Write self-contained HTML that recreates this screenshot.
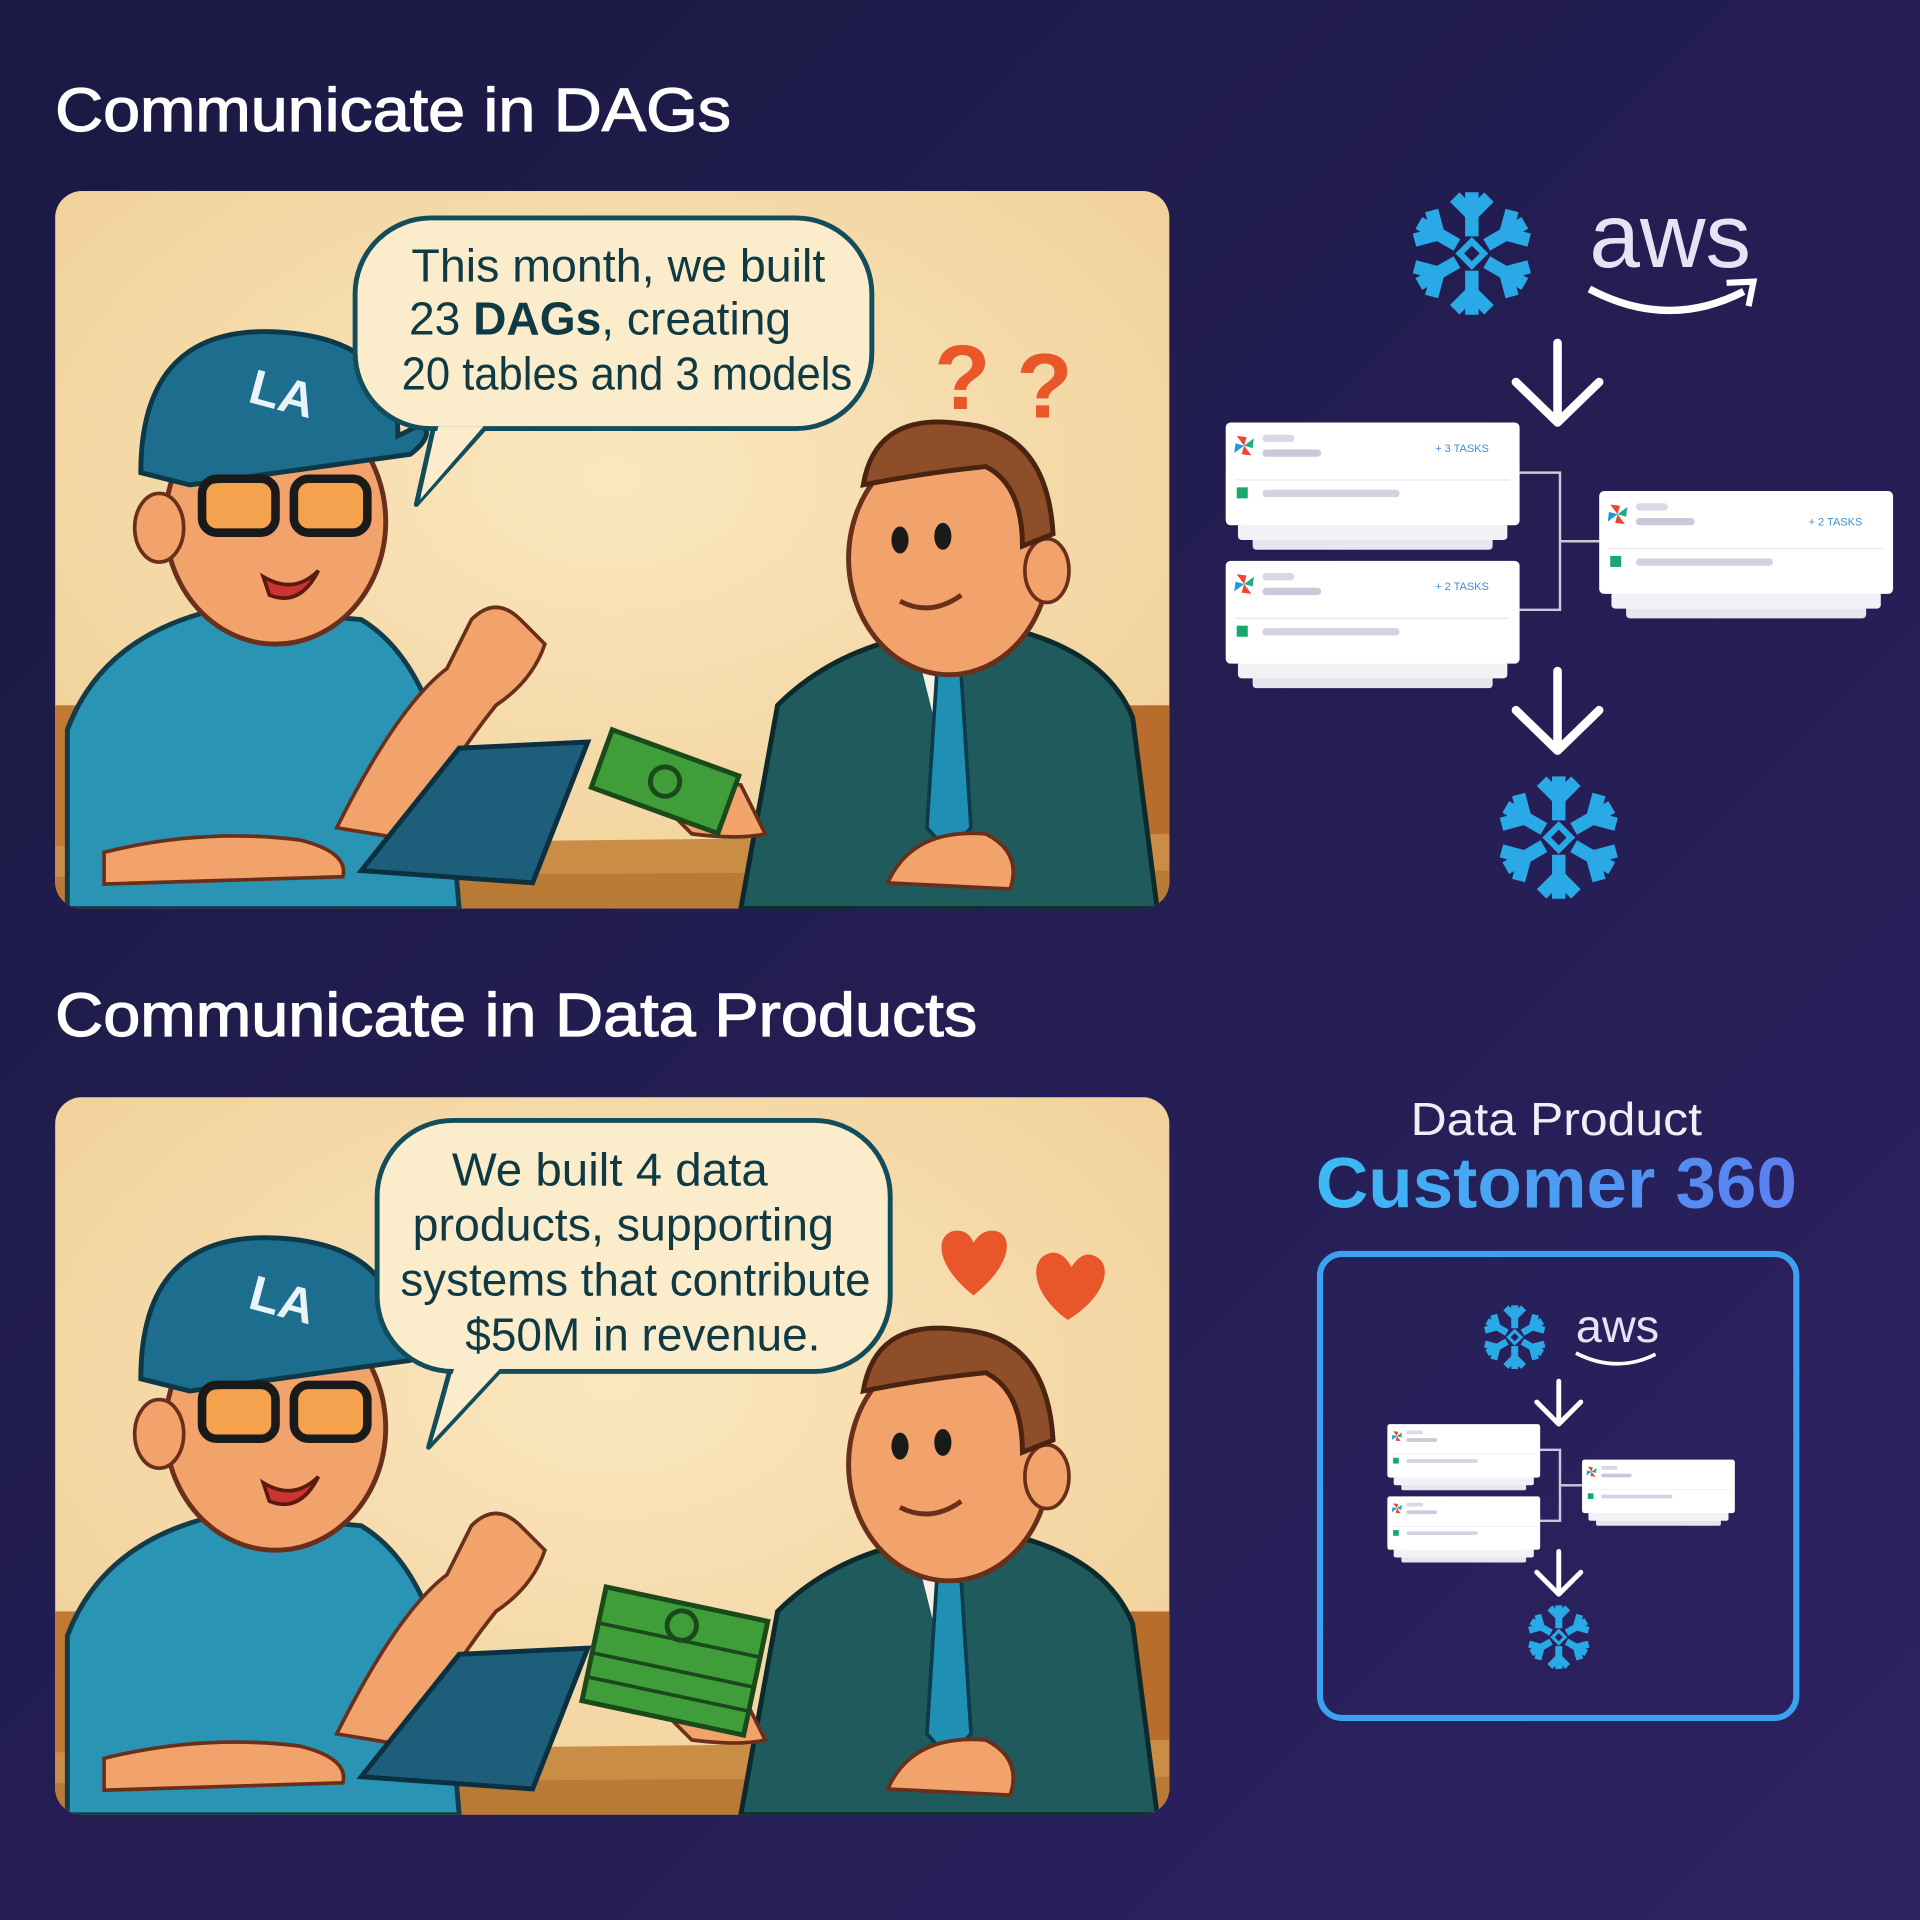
<!DOCTYPE html>
<html><head><meta charset="utf-8">
<style>
html,body{margin:0;padding:0;width:1920px;height:1920px;overflow:hidden;background:#1f1c4a}
svg{display:block}
</style></head>
<body>
<svg width="1920" height="1920" viewBox="0 0 1568 1568" xmlns="http://www.w3.org/2000/svg" font-family="Liberation Sans, DejaVu Sans, sans-serif">
<defs>
<linearGradient id="bg" x1="0" y1="0" x2="1" y2="1">
<stop offset="0" stop-color="#1a1942"/><stop offset="1" stop-color="#2d2262"/></linearGradient>
<radialGradient id="beige" cx="0.5" cy="0.4" r="0.7">
<stop offset="0" stop-color="#fbe7c0"/><stop offset="1" stop-color="#f0cf96"/></radialGradient>
<linearGradient id="cust" x1="0" y1="0" x2="1" y2="0">
<stop offset="0" stop-color="#3dbaf5"/><stop offset="1" stop-color="#5c7ff0"/></linearGradient>
<clipPath id="pc"><rect x="0" y="0" width="910" height="586" rx="22"/></clipPath>

<g id="snow" stroke="#29a9e6" stroke-width="11" fill="none" stroke-linecap="butt">
 <g id="arm"><path d="M0,-14 L0,-50"/><path d="M-14,-46 L0,-32 L14,-46"/></g>
 <use href="#arm" transform="rotate(60)"/><use href="#arm" transform="rotate(120)"/>
 <use href="#arm" transform="rotate(180)"/><use href="#arm" transform="rotate(240)"/><use href="#arm" transform="rotate(300)"/>
 <rect x="-7" y="-7" width="14" height="14" transform="rotate(45)" stroke-width="5"/>
</g>

<g id="pin">
 <path d="M0,0 L-6,-8 L2,-7Z" fill="#e43"/><path d="M0,0 L8,-6 L7,2Z" fill="#2a8"/>
 <path d="M0,0 L6,8 L-2,7Z" fill="#e43"/><path d="M0,0 L-8,6 L-7,-2Z" fill="#1a9be0"/>
</g>

<g id="card">
 <rect x="22" y="92" width="196" height="12" rx="3" fill="#e6e6ef"/>
 <rect x="10" y="82" width="220" height="14" rx="3" fill="#f1f1f6"/>
 <rect x="0" y="0" width="240" height="84" rx="4" fill="#fff"/>
 <use href="#pin" x="15" y="19"/>
 <rect x="30" y="10" width="26" height="6" rx="3" fill="#d8d8e6"/>
 <rect x="30" y="22" width="48" height="6" rx="3" fill="#c9c9da"/>
 <line x1="8" y1="47" x2="232" y2="47" stroke="#e6e6ee"/>
 <rect x="9" y="53" width="9" height="9" fill="#19a86b"/>
 <rect x="30" y="55" width="112" height="6" rx="3" fill="#d2d2e2"/>
</g>

<g id="cartoon">
 <rect x="0" y="0" width="910" height="586" fill="url(#beige)"/>
 <rect x="0" y="420" width="30" height="120" fill="#c07a34"/>
 <rect x="870" y="420" width="40" height="140" fill="#b86d2c"/>
 <path d="M0,535 L910,525 L910,586 L0,586Z" fill="#c98d45"/>
 <path d="M0,560 L910,555 L910,586 L0,586Z" fill="#b97a36"/>
 <path d="M10,586 L10,440 Q40,360 140,340 L250,350 Q300,380 320,470 L330,586Z" fill="#2a94b4" stroke="#123c4a" stroke-width="4"/>
 <path d="M230,520 Q280,420 320,390 L340,350 Q360,330 380,350 L400,370 Q390,400 360,420 Q320,470 290,530Z" fill="#f2a36b" stroke="#6a2f1a" stroke-width="3"/>
 <path d="M40,540 Q120,520 200,530 Q240,540 235,560 L40,566Z" fill="#f2a36b" stroke="#6a2f1a" stroke-width="3"/>
 <ellipse cx="180" cy="270" rx="90" ry="100" fill="#f2a36b" stroke="#6a2f1a" stroke-width="4"/>
 <ellipse cx="85" cy="275" rx="20" ry="28" fill="#f2a36b" stroke="#6a2f1a" stroke-width="3"/>
 <path d="M70,230 Q70,110 180,115 Q280,120 280,200 L300,190 Q310,200 290,215 L110,240Z" fill="#1c6d8e" stroke="#0d3848" stroke-width="4"/>
 <text x="160" y="175" font-size="40" font-weight="bold" fill="#e8f4f8" transform="rotate(15 170 160)">LA</text>
 <rect x="120" y="235" width="60" height="44" rx="12" fill="#f6a23a" fill-opacity="0.6" stroke="#1a1a1a" stroke-width="7"/>
 <rect x="195" y="235" width="60" height="44" rx="12" fill="#f6a23a" fill-opacity="0.6" stroke="#1a1a1a" stroke-width="7"/>
 <path d="M170,315 Q195,330 215,310 Q200,340 175,330Z" fill="#c33" stroke="#5a1a10" stroke-width="3"/>
 <path d="M250,555 L330,455 L435,450 L390,565Z" fill="#1d5f7a" stroke="#0d3040" stroke-width="4"/>
 <path d="M560,586 L590,420 Q640,370 720,360 L790,360 Q860,380 880,430 L900,586Z" fill="#1f5a5c" stroke="#0c2a2c" stroke-width="4"/>
 <path d="M700,360 L720,440 L760,360Z" fill="#f5f1e4"/>
 <path d="M720,395 L740,395 L748,520 L730,540 L712,520Z" fill="#1f8fb4" stroke="#0c3c4c" stroke-width="3"/>
 <ellipse cx="730" cy="300" rx="82" ry="95" fill="#f2a36b" stroke="#6a2f1a" stroke-width="4"/>
 <ellipse cx="810" cy="310" rx="18" ry="26" fill="#f2a36b" stroke="#6a2f1a" stroke-width="3"/>
 <path d="M660,240 Q670,180 740,190 Q810,195 815,280 L790,290 Q790,240 760,225 Q710,230 660,240Z" fill="#8e4e2a" stroke="#4a2410" stroke-width="4"/>
 <ellipse cx="690" cy="285" rx="7" ry="11" fill="#1a1a1a"/><ellipse cx="725" cy="282" rx="7" ry="11" fill="#1a1a1a"/>
 <path d="M690,335 Q715,348 740,330" fill="none" stroke="#6a2f1a" stroke-width="4"/>
 <path d="M680,565 Q700,520 760,525 Q790,540 780,570Z" fill="#f2a36b" stroke="#6a2f1a" stroke-width="3"/>
 <path d="M500,505 Q520,480 560,485 L580,525 Q560,530 520,525Z" fill="#f2a36b" stroke="#6a2f1a" stroke-width="3"/>
</g>
</defs>

<rect width="1568" height="1568" fill="url(#bg)"/>

<text x="45" y="107" font-size="50" fill="#ffffff" stroke="#ffffff" stroke-width="1" textLength="552" lengthAdjust="spacingAndGlyphs">Communicate in DAGs</text>
<text x="45" y="846" font-size="50" fill="#ffffff" stroke="#ffffff" stroke-width="1" textLength="753" lengthAdjust="spacingAndGlyphs">Communicate in Data Products</text>

<g transform="translate(45,156)" clip-path="url(#pc)">
 <use href="#cartoon"/>
 <g transform="translate(455,440) rotate(20)"><rect x="0" y="0" width="110" height="50" fill="#3f9d3a" stroke="#1a4a1a" stroke-width="4"/><circle cx="55" cy="25" r="12" fill="none" stroke="#1a4a1a" stroke-width="4"/></g>
 <text x="718" y="178" font-size="75" font-weight="bold" fill="#e8562a">?</text>
 <text x="785" y="185" font-size="75" font-weight="bold" fill="#e8562a">?</text>
</g>
<path d="M340,412 L355,345 L400,345Z" fill="#fbeccb" stroke="#124d5c" stroke-width="4" stroke-linejoin="round"/>
<rect x="290" y="178" width="422" height="172" rx="62" fill="#fbeccb" stroke="#124d5c" stroke-width="4"/>
<path d="M343,408 L358,348 L395,348Z" fill="#fbeccb"/>
<g font-size="38" fill="#0f3a44" text-anchor="middle">
<text x="505" y="230" textLength="338" lengthAdjust="spacingAndGlyphs">This month, we built</text>
<text x="490" y="273" textLength="312" lengthAdjust="spacingAndGlyphs">23 <tspan font-weight="bold">DAGs</tspan>, creating</text>
<text x="512" y="318" textLength="368" lengthAdjust="spacingAndGlyphs">20 tables and 3 models</text>
</g>

<g transform="translate(45,896)" clip-path="url(#pc)">
 <use href="#cartoon"/>
 <g transform="translate(450,400) rotate(12)"><rect x="0" y="0" width="135" height="95" fill="#3f9d3a" stroke="#1a4a1a" stroke-width="4"/><path d="M0,30 H135 M0,55 H135 M0,75 H135" stroke="#1a4a1a" stroke-width="3"/><circle cx="67" cy="18" r="12" fill="none" stroke="#1a4a1a" stroke-width="4"/></g>
</g>
<path d="M795,1058 C760,1030 765,1005 782,1005 C792,1005 795,1015 795,1015 C795,1015 800,1005 810,1005 C827,1005 830,1030 795,1058Z" fill="#e8562a"/>
<path d="M872,1078 C840,1055 840,1025 860,1023 C870,1023 875,1035 875,1035 C875,1035 882,1022 892,1025 C910,1030 905,1058 872,1078Z" fill="#e8562a"/>
<path d="M350,1182 L370,1110 L415,1112Z" fill="#fbeccb" stroke="#124d5c" stroke-width="4" stroke-linejoin="round"/>
<rect x="308" y="915" width="419" height="205" rx="62" fill="#fbeccb" stroke="#124d5c" stroke-width="4"/>
<path d="M353,1177 L372,1114 L410,1116Z" fill="#fbeccb"/>
<g font-size="38" fill="#0f3a44" text-anchor="middle">
<text x="498" y="968" textLength="258" lengthAdjust="spacingAndGlyphs">We built 4 data</text>
<text x="509" y="1013" textLength="344" lengthAdjust="spacingAndGlyphs">products, supporting</text>
<text x="519" y="1058" textLength="384" lengthAdjust="spacingAndGlyphs">systems that contribute</text>
<text x="525" y="1103" textLength="290" lengthAdjust="spacingAndGlyphs">$50M in revenue.</text>
</g>

<use href="#snow" transform="translate(1202,207)"/>
<text x="1298" y="218" font-size="74" fill="#e6e4f4" textLength="132" lengthAdjust="spacingAndGlyphs">aws</text>
<path d="M1298,236 Q1362,270 1424,238" fill="none" stroke="#fff" stroke-width="6"/>
<path d="M1410,231 L1432,230 L1428,250" fill="none" stroke="#fff" stroke-width="5"/>

<g stroke="#fff" stroke-width="7" fill="none" stroke-linecap="round" stroke-linejoin="round">
<path d="M1272,280 V345 M1238,312 L1272,345 L1306,312"/>
<path d="M1272,548 V613 M1238,580 L1272,613 L1306,580"/>
</g>
<path d="M1241,386 H1274 V498 H1241 M1274,442 H1306" fill="none" stroke="#c9c9d9" stroke-width="2"/>
<use href="#card" x="1001" y="345"/>
<use href="#card" x="1001" y="458"/>
<use href="#card" x="1306" y="401"/>
<g font-size="9" fill="#3c8fd8"><text x="1172" y="369">+ 3 TASKS</text><text x="1172" y="482">+ 2 TASKS</text><text x="1477" y="429">+ 2 TASKS</text></g>
<use href="#snow" transform="translate(1273,684)"/>

<text x="1271" y="927" font-size="38" fill="#f0eff8" text-anchor="middle" textLength="238" lengthAdjust="spacingAndGlyphs">Data Product</text>
<text x="1271" y="986" font-size="58" font-weight="bold" fill="url(#cust)" text-anchor="middle" textLength="393" lengthAdjust="spacingAndGlyphs">Customer 360</text>
<rect x="1078" y="1024" width="389" height="379" rx="18" fill="none" stroke="#3aa2f0" stroke-width="5"/>
<use href="#snow" transform="translate(1237,1092) scale(0.52)"/>
<text x="1287" y="1096" font-size="38" fill="#e6e4f4" textLength="68" lengthAdjust="spacingAndGlyphs">aws</text>
<path d="M1287,1105 Q1320,1122 1352,1106" fill="none" stroke="#fff" stroke-width="3"/>
<g stroke="#fff" stroke-width="4" fill="none" stroke-linecap="round" stroke-linejoin="round">
<path d="M1273,1128 V1163 M1255,1145 L1273,1163 L1291,1145"/>
<path d="M1273,1267 V1302 M1255,1284 L1273,1302 L1291,1284"/>
</g>
<path d="M1257,1184 H1274 V1242 H1257 M1274,1213 H1292" fill="none" stroke="#c9c9d9" stroke-width="2"/>
<g transform="translate(1133,1163) scale(0.52)"><use href="#card"/></g>
<g transform="translate(1133,1222) scale(0.52)"><use href="#card"/></g>
<g transform="translate(1292,1192) scale(0.52)"><use href="#card"/></g>
<use href="#snow" transform="translate(1273,1337) scale(0.52)"/>
</svg>
</body></html>
